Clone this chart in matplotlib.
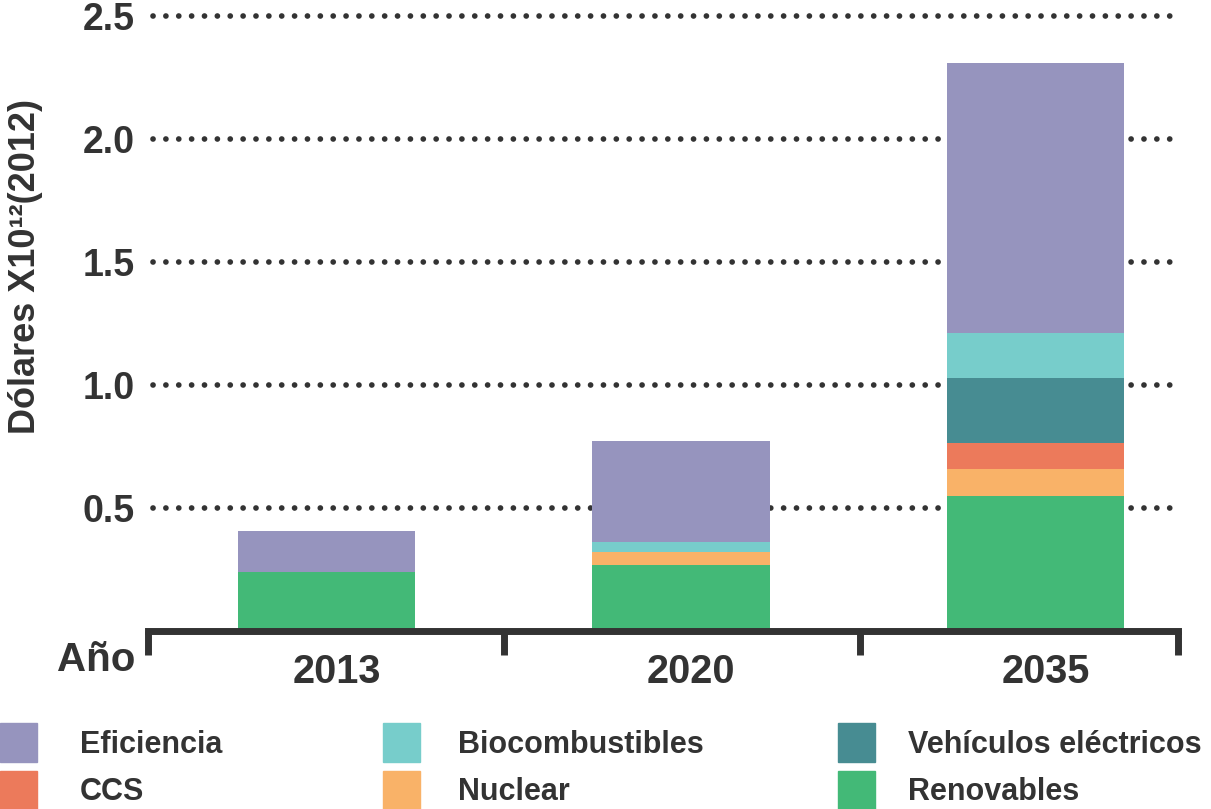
import matplotlib
matplotlib.use("Agg")
import matplotlib.pyplot as plt
import matplotlib.transforms as mtransforms
from matplotlib.patches import Rectangle

# ---- data ----
years = ["2013", "2020", "2035"]
series_names = ["Renovables", "Nuclear", "CCS", "Vehículos eléctricos", "Biocombustibles", "Eficiencia"]
renovables = [0.240, 0.268, 0.549]
nuclear = [0.0, 0.054, 0.110]
ccs = [0.0, 0.0, 0.106]
vehiculos = [0.0, 0.0, 0.264]
biocombustibles = [0.0, 0.040, 0.183]
eficiencia = [0.167, 0.410, 1.098]
yticks = [0.5, 1.0, 1.5, 2.0, 2.5]
ytick_labels = ["0.5", "1.0", "1.5", "2.0", "2.5"]

colors = {
    "Renovables": "#43B977",
    "Nuclear": "#F9B268",
    "CCS": "#EC7A5B",
    "Vehículos eléctricos": "#478C92",
    "Biocombustibles": "#77CDCB",
    "Eficiencia": "#9694BE",
}
values = {
    "Renovables": renovables,
    "Nuclear": nuclear,
    "CCS": ccs,
    "Vehículos eléctricos": vehiculos,
    "Biocombustibles": biocombustibles,
    "Eficiencia": eficiencia,
}

dark = "#333333"
plt.rcParams['font.family'] = ['Liberation Sans', 'DejaVu Sans']
plt.rcParams['font.weight'] = 'bold'

W, H = 1211, 809
fig = plt.figure(figsize=(W / 100, H / 100), dpi=100)
ax = fig.add_axes([147.5 / W, (H - 631) / H, (1177.5 - 147.5) / W, (631 - 16) / H])

x = list(range(len(years)))
bottoms = [0.0] * len(years)
for name in series_names:
    vals = values[name]
    ax.bar(x, vals, width=0.5, bottom=bottoms, color=colors[name], zorder=3, linewidth=0)
    bottoms = [b + v for b, v in zip(bottoms, vals)]

# dotted grid lines
for yv in yticks:
    ax.plot([-0.49, 2.402], [yv, yv], color=dark, lw=4.1, linestyle=(0, (0.01, 2.25)),
            dash_capstyle='round', clip_on=False, zorder=1)

ax.set_xlim(-0.505, 2.4)
ax.set_ylim(0, 2.5)

for s in ["top", "right", "left"]:
    ax.spines[s].set_visible(False)
ax.spines["bottom"].set_linewidth(5)
ax.spines["bottom"].set_color(dark)
ax.spines["bottom"].set_zorder(4)

ax.set_yticks(yticks)
ax.set_yticklabels(ytick_labels)
ax.tick_params(axis='y', length=0, pad=9, labelsize=27, labelcolor=dark)

ax.set_xticks(x)
ax.set_xticklabels(years)
ax.tick_params(axis='x', which='major', length=0, pad=16, labelsize=28.5, labelcolor=dark)
ax.set_xticks([-0.505, 0.5, 1.505, 2.4], minor=True)
ax.tick_params(axis='x', which='minor', length=17, width=5, color=dark, direction='out')
shift = mtransforms.ScaledTranslation(10 / 100, 0, fig.dpi_scale_trans)
for lbl in ax.get_xticklabels():
    lbl.set_transform(lbl.get_transform() + shift)
for lbl in ax.get_xticklabels() + ax.get_yticklabels():
    lbl.set_fontweight('bold')

fig.text(135 / W, 1 - 660 / H, "Año", ha='right', va='center', fontsize=29,
         fontweight='bold', color=dark)

fig.text(26 / W, 1 - 266 / H, "Dólares X10¹²(2012)", rotation=90, ha='center', va='center',
         fontsize=26, fontweight='bold', color=dark,
         family=['Liberation Sans Narrow', 'Liberation Sans', 'DejaVu Sans'])

# legend (manual, 3 columns, row-major)
legend_order = ["Eficiencia", "Biocombustibles", "Vehículos eléctricos",
                "CCS", "Nuclear", "Renovables"]
col_sq_x = [0, 383, 838]
col_tx_x = [80, 458, 908]
row_sq_y = [723, 771]
row_tx_y = [745, 792]
for i, name in enumerate(legend_order):
    r, c = divmod(i, 3)
    fig.patches.append(Rectangle((col_sq_x[c] / W, 1 - (row_sq_y[r] + 39) / H), 37 / W, 39 / H,
                                 transform=fig.transFigure, color=colors[name], figure=fig))
    fig.text(col_tx_x[c] / W, 1 - row_tx_y[r] / H, name, ha='left', va='center',
             fontsize=22, fontweight='bold', color=dark)

fig.savefig("out.png", dpi=100)
